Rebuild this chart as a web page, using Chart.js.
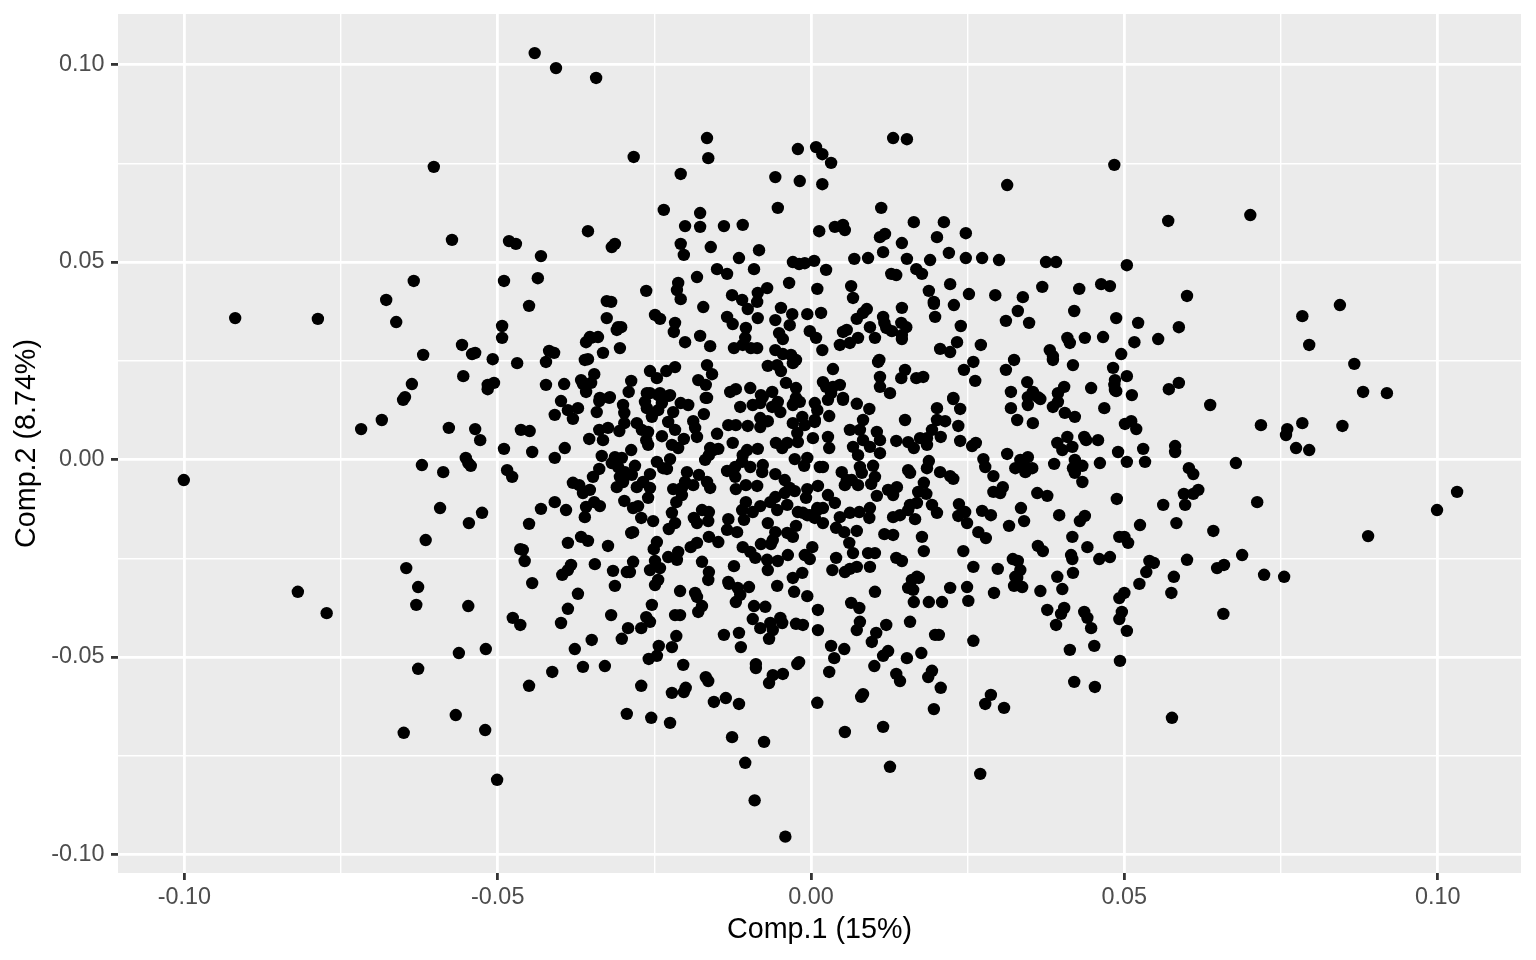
<!DOCTYPE html>
<html>
<head>
<meta charset="utf-8">
<title>PCA scores</title>
<script src="https://cdn.jsdelivr.net/npm/chart.js@4/dist/chart.umd.min.js"></script>
<style>
  html, body { margin: 0; padding: 0; background: #fff; }
  canvas { display: block; }
</style>
</head>
<body>
<canvas id="scoreChart" width="1536" height="960"></canvas>
<script>
// Axis labels and ticks
const xTitle = "Comp.1 (15%)";
const yTitle = "Comp.2 (8.74%)";
const xLimits = [-0.1106, 0.1133];
const yLimits = [-0.1047, 0.1128];
const xTicks = [-0.1, -0.075, -0.05, -0.025, 0, 0.025, 0.05, 0.075, 0.1];
const yTicks = [-0.1, -0.075, -0.05, -0.025, 0, 0.025, 0.05, 0.075, 0.1];
const majorTicks = [-0.1, -0.05, 0, 0.05, 0.1];

// Scores, [Comp.1, Comp.2], one list per region
const scoresLeft = [
  [-0.1001,-0.0052],[-0.0919,0.0358],[-0.0787,0.0356],[-0.0819,-0.0335],[-0.0773,-0.0389],[-0.0718,0.0077],
  [-0.0685,0.0100],[-0.0678,0.0404],[-0.0662,0.0348],[-0.0634,0.0452],[-0.0619,0.0265],[-0.0602,0.0741],
  [-0.0637,0.0191],[-0.0648,0.0158],[-0.0651,0.0151],[-0.0578,0.0080],[-0.0621,-0.0014],[-0.0587,-0.0032],
  [-0.0646,-0.0275],[-0.0627,-0.0323],[-0.0630,-0.0368],[-0.0615,-0.0204],[-0.0592,-0.0123],[-0.0627,-0.0530],
  [-0.0650,-0.0692],[-0.0567,-0.0647],[-0.0562,-0.0490],[-0.0547,-0.0371],[-0.0546,-0.0161],[-0.0525,-0.0135],
  [-0.0519,-0.0480],[-0.0520,-0.0685],[-0.0501,-0.0811],[-0.0573,0.0556],[-0.0557,0.0290],[-0.0555,0.0211],
  [-0.0536,0.0270],[-0.0541,0.0267],[-0.0536,0.0077],[-0.0528,0.0049],[-0.0551,0.0004],[-0.0547,-0.0009],
  [-0.0543,-0.0016],[-0.0516,0.0189],[-0.0506,0.0194],[-0.0516,0.0178],[-0.0508,0.0254],[-0.0490,0.0452],
  [-0.0482,0.0553],[-0.0471,0.0546],[-0.0493,0.0338],[-0.0493,0.0308],[-0.0469,0.0244],[-0.0490,0.0027],
  [-0.0485,-0.0027],[-0.0477,-0.0044],[-0.0463,0.0075],[-0.0449,0.0072],[-0.0450,0.0389],[-0.0436,0.0459],
  [-0.0431,0.0515],[-0.0418,0.0275],[-0.0410,0.0270],[-0.0423,0.0247],[-0.0359,0.0297],[-0.0353,0.0310],
  [-0.0340,0.0310],[-0.0361,0.0252],[-0.0423,0.0189],[-0.0394,0.0191],[-0.0367,0.0201],[-0.0364,0.0191],
  [-0.0359,0.0171],[-0.0445,0.0019],[-0.0476,-0.0401],[-0.0464,-0.0419],[-0.0450,-0.0573],[-0.0464,-0.0227],
  [-0.0460,-0.0229],[-0.0457,-0.0257],[-0.0445,-0.0313],[-0.0450,-0.0163],[-0.0431,-0.0125],[-0.0409,-0.0108]
];

const scoresTop = [
  [-0.0441,0.1029],[-0.0407,0.0991],[-0.0343,0.0966],[-0.0283,0.0766],[-0.0208,0.0723],[-0.0166,0.0814],
  [-0.0164,0.0763],[-0.0021,0.0786],[0.0008,0.0791],[0.0018,0.0773],[0.0032,0.0751],[-0.0057,0.0715],
  [-0.0018,0.0705],[0.0018,0.0697],[0.0131,0.0814],[0.0153,0.0811],[0.0313,0.0695],[0.0484,0.0746],
  [0.0701,0.0619],[0.0570,0.0604],[-0.0235,0.0632],[-0.0177,0.0624],[-0.0201,0.0591],[-0.0177,0.0589],
  [-0.0139,0.0591],[-0.0109,0.0594],[-0.0053,0.0637],[0.0112,0.0637],[0.0164,0.0601],[0.0212,0.0601],
  [0.0247,0.0573],[0.0201,0.0563],[0.0145,0.0548],[0.0118,0.0571],[0.0110,0.0563],[0.0013,0.0578],
  [0.0038,0.0589],[0.0051,0.0594],[0.0054,0.0581],[-0.0313,0.0546],[-0.0318,0.0538],[-0.0356,0.0578],
  [-0.0208,0.0546],[-0.0203,0.0518],[-0.0160,0.0538],[-0.0083,0.0530],[-0.0115,0.0510],[-0.0091,0.0482],
  [-0.0150,0.0482],[-0.0134,0.0470],[-0.0182,0.0462],[-0.0029,0.0500],[-0.0019,0.0495],[-0.0010,0.0497],
  [0.0005,0.0503],[0.0024,0.0480],[0.0069,0.0508],[0.0091,0.0510],[0.0115,0.0525],[0.0153,0.0508],
  [0.0190,0.0505],[0.0220,0.0523],[0.0247,0.0510],[0.0273,0.0510],[0.0300,0.0505],[0.0375,0.0500],
  [0.0391,0.0500],[0.0168,0.0482],[0.0177,0.0470],[0.0128,0.0470],[0.0136,0.0467],[-0.0035,0.0447],
  [0.0010,0.0432],[-0.0070,0.0434],[-0.0085,0.0422],[-0.0086,0.0399],[-0.0212,0.0447],[-0.0214,0.0429],
  [-0.0208,0.0406],[-0.0263,0.0427],[-0.0326,0.0401],[-0.0319,0.0399],[-0.0126,0.0416],[-0.0110,0.0404],
  [-0.0101,0.0381],[-0.0172,0.0386],[-0.0048,0.0384],[0.0064,0.0439],[0.0067,0.0409],[0.0188,0.0427],
  [0.0196,0.0399],[0.0196,0.0394],[0.0222,0.0444],[0.0252,0.0419],[0.0294,0.0416],[0.0338,0.0411],
  [0.0369,0.0437],[0.0228,0.0391],[0.0330,0.0376],[0.0311,0.0351],[0.0348,0.0346]
];

const scoresUpperMiddle = [
  [0.0198,0.0361],[0.0145,0.0384],[0.0089,0.0381],[0.0083,0.0371],[0.0073,0.0356],[0.0115,0.0361],
  [0.0117,0.0346],[0.0120,0.0333],[0.0129,0.0325],[0.0144,0.0346],[0.0152,0.0335],[0.0145,0.0315],
  [0.0145,0.0305],[0.0094,0.0335],[0.0102,0.0308],[0.0057,0.0328],[0.0051,0.0323],[0.0075,0.0308],
  [0.0062,0.0295],[0.0046,0.0290],[0.0016,0.0371],[-0.0006,0.0368],[-0.0030,0.0368],[-0.0034,0.0340],
  [-0.0057,0.0353],[-0.0085,0.0358],[-0.0134,0.0361],[-0.0125,0.0343],[-0.0249,0.0366],[-0.0241,0.0356],
  [-0.0217,0.0346],[-0.0219,0.0323],[-0.0326,0.0358],[-0.0308,0.0335],[-0.0303,0.0335],[-0.0310,0.0328],
  [-0.0351,0.0308],[-0.0305,0.0282],[-0.0332,0.0270],[-0.0177,0.0313],[-0.0201,0.0297],[-0.0161,0.0287],
  [-0.0104,0.0333],[-0.0105,0.0308],[-0.0123,0.0282],[-0.0109,0.0290],[-0.0096,0.0282],[-0.0086,0.0282],
  [-0.0051,0.0320],[-0.0045,0.0305],[-0.0002,0.0325],[0.0008,0.0308],[0.0018,0.0277],[-0.0057,0.0277],
  [-0.0045,0.0267],[-0.0032,0.0265],[-0.0024,0.0252],[-0.0029,0.0244],[-0.0069,0.0237],[-0.0054,0.0239],
  [-0.0048,0.0224],[0.0239,0.0338],[0.0233,0.0297],[0.0206,0.0280],[0.0222,0.0272],[0.0271,0.0290],
  [0.0259,0.0247],[0.0244,0.0227],[0.0262,0.0199],[0.0324,0.0252],[0.0311,0.0227],[0.0381,0.0277],
  [0.0386,0.0262],[0.0319,0.0171],[0.0345,0.0196],[0.0354,0.0171],[0.0346,0.0158],[0.0362,0.0158],
  [0.0227,0.0156],[0.0109,0.0252],[0.0110,0.0209],[0.0110,0.0184],[0.0126,0.0168],[0.0035,0.0229],
  [0.0150,0.0227],[0.0144,0.0206],[0.0168,0.0206],[0.0179,0.0209],[0.0019,0.0196],[0.0024,0.0184],
  [0.0035,0.0184],[0.0046,0.0189],[0.0032,0.0168],[0.0051,0.0156],[-0.0040,0.0194],[-0.0024,0.0181],
  [-0.0024,0.0156],[-0.0062,0.0171],[-0.0097,0.0181],[-0.0080,0.0163],[-0.0129,0.0171],[-0.0120,0.0178],
  [-0.0166,0.0239],[-0.0158,0.0216],[-0.0180,0.0201],[-0.0168,0.0189],[-0.0168,0.0156],[-0.0217,0.0234],
  [-0.0231,0.0224],[-0.0246,0.0206],[-0.0257,0.0224],[-0.0287,0.0199],[-0.0291,0.0171],[-0.0257,0.0168],
  [-0.0244,0.0163],[-0.0225,0.0163],[-0.0346,0.0216],[-0.0351,0.0194],[-0.0321,0.0158],[-0.0337,0.0156],
  [-0.0356,0.0254]
];

const scoresCentreLeft = [
  [-0.0399,0.0148],[-0.0409,0.0113],[-0.0388,0.0125],[-0.0372,0.0130],[-0.0380,0.0103],[-0.0338,0.0148],
  [-0.0322,0.0156],[-0.0342,0.0120],[-0.0300,0.0138],[-0.0298,0.0118],[-0.0298,0.0092],[-0.0306,0.0072],
  [-0.0338,0.0075],[-0.0324,0.0080],[-0.0332,0.0049],[-0.0354,0.0052],[-0.0393,0.0029],[-0.0409,0.0004],
  [-0.0287,0.0024],[-0.0278,0.0092],[-0.0270,0.0075],[-0.0260,0.0070],[-0.0263,0.0049],[-0.0260,0.0037],
  [-0.0262,0.0168],[-0.0265,0.0146],[-0.0262,0.0130],[-0.0254,0.0108],[-0.0241,0.0168],[-0.0244,0.0125],
  [-0.0227,0.0161],[-0.0238,0.0143],[-0.0220,0.0120],[-0.0228,0.0095],[-0.0217,0.0075],[-0.0238,0.0059],
  [-0.0222,0.0037],[-0.0212,0.0029],[-0.0203,0.0052],[-0.0208,0.0143],[-0.0196,0.0138],[-0.0166,0.0156],
  [-0.0171,0.0115],[-0.0188,0.0097],[-0.0185,0.0080],[-0.0182,0.0057],[-0.0150,0.0065],[-0.0132,0.0087],
  [-0.0120,0.0087],[-0.0101,0.0085],[-0.0081,0.0082],[-0.0069,0.0097],[-0.0081,0.0105],[-0.0113,0.0133],
  [-0.0093,0.0138],[-0.0081,0.0143],[-0.0077,0.0158],[-0.0062,0.0133],[-0.0053,0.0146],[-0.0049,0.0120],
  [-0.0026,0.0146],[-0.0029,0.0138],[-0.0018,0.0146],[-0.0029,0.0092],[-0.0010,0.0087],[0.0006,0.0100],
  [-0.0014,0.0108],[-0.0022,0.0067],[-0.0021,0.0044],[0.0003,0.0054],[-0.0125,0.0042],[-0.0161,0.0029],
  [-0.0156,0.0024],[-0.0169,-0.0001],[-0.0163,0.0011],[-0.0148,0.0027],[-0.0102,0.0024],[-0.0085,0.0027],
  [-0.0109,0.0011],[-0.0056,0.0042],[-0.0046,0.0029],[-0.0038,0.0042],[-0.0026,0.0001],[-0.0006,0.0004],
  [-0.0011,-0.0016],[0.0014,-0.0019],[-0.0334,0.0009],[-0.0313,0.0006],[-0.0302,0.0004],[-0.0318,-0.0009],
  [-0.0308,-0.0019],[-0.0297,-0.0032],[-0.0305,-0.0044],[-0.0286,-0.0039],[-0.0281,-0.0016],[-0.0310,-0.0070],
  [-0.0300,-0.0057],[-0.0338,-0.0024],[-0.0348,-0.0044],[-0.0380,-0.0059],[-0.0370,-0.0065],[-0.0364,-0.0085],
  [-0.0353,-0.0077],[-0.0257,-0.0037],[-0.0268,-0.0057],[-0.0278,-0.0070],[-0.0257,-0.0072],[-0.0260,-0.0097],
  [-0.0246,-0.0006],[-0.0236,-0.0022],[-0.0225,0.0001],[-0.0230,-0.0024],[-0.0298,-0.0105],[-0.0284,-0.0123],
  [-0.0276,-0.0118],[-0.0271,-0.0148],[-0.0252,-0.0156],[-0.0284,-0.0184],[-0.0287,-0.0186],[-0.0346,-0.0108],
  [-0.0337,-0.0118],[-0.0359,-0.0120],[-0.0361,-0.0146],[-0.0391,-0.0128],[-0.0388,-0.0211],[-0.0367,-0.0196],
  [-0.0356,-0.0206],[-0.0324,-0.0219],[-0.0383,-0.0267],[-0.0388,-0.0280],[-0.0397,-0.0292],[-0.0345,-0.0265],
  [-0.0316,-0.0282],[-0.0284,-0.0259],[-0.0289,-0.0285],[-0.0294,-0.0285],[-0.0246,-0.0209],[-0.0251,-0.0227],
  [-0.0249,-0.0257],[-0.0257,-0.0280],[-0.0241,-0.0275],[-0.0228,-0.0247],[-0.0212,-0.0234],[-0.0214,-0.0254],
  [-0.0227,-0.0176],[-0.0217,-0.0161],[-0.0222,-0.0135],[-0.0215,-0.0108],[-0.0206,-0.0090],[-0.0220,-0.0075],
  [-0.0198,-0.0032],[-0.0201,-0.0057],[-0.0206,-0.0072],[-0.0188,-0.0065],[-0.0179,-0.0039],[-0.0166,-0.0057],
  [-0.0161,-0.0072],[-0.0134,-0.0029],[-0.0121,-0.0044],[-0.0121,-0.0019],[-0.0110,-0.0006],[-0.0097,-0.0019],
  [-0.0077,-0.0014],[-0.0078,-0.0032],[-0.0057,-0.0037],[-0.0120,-0.0075],[-0.0104,-0.0065],[-0.0086,-0.0067],
  [-0.0042,-0.0052],[-0.0034,-0.0072],[-0.0042,-0.0085],[-0.0026,-0.0080],[-0.0006,-0.0075],[-0.0008,-0.0097],
  [0.0011,-0.0067],[-0.0104,-0.0108],[-0.0110,-0.0128],[-0.0093,-0.0133],[-0.0081,-0.0118],[-0.0065,-0.0108],
  [-0.0057,-0.0095],[-0.0054,-0.0128],[-0.0038,-0.0115],[-0.0021,-0.0133],[-0.0006,-0.0141],[0.0010,-0.0128],
  [0.0006,-0.0148],[-0.0174,-0.0128],[-0.0187,-0.0148],[-0.0163,-0.0133],[-0.0164,-0.0156],[-0.0182,-0.0161],
  [-0.0132,-0.0151],[-0.0134,-0.0178],[-0.0118,-0.0184],[-0.0107,-0.0153],[-0.0069,-0.0161],[-0.0024,-0.0168],
  [-0.0057,-0.0184],[-0.0061,-0.0204],[-0.0080,-0.0214],[-0.0064,-0.0214],[-0.0038,-0.0186],[-0.0029,-0.0196],
  [-0.0163,-0.0196],[-0.0148,-0.0209],[-0.0182,-0.0211],[-0.0192,-0.0222],[-0.0109,-0.0222],[-0.0097,-0.0234],
  [-0.0089,-0.0249],[-0.0070,-0.0254],[-0.0053,-0.0257],[-0.0037,-0.0242],[-0.0069,-0.0280],[0.0002,-0.0222],
  [-0.0010,-0.0242],[-0.0002,-0.0252],[-0.0174,-0.0259],[-0.0123,-0.0270],[-0.0163,-0.0285],[-0.0164,-0.0305],
  [-0.0014,-0.0287],[-0.0029,-0.0300],[-0.0132,-0.0310]
];

const scoresCentreRight = [
  [0.0107,0.0247],[0.0418,0.0239],[0.0386,0.0252],[0.0482,0.0232],[0.0485,0.0201],[0.0485,0.0176],
  [0.0319,0.0130],[0.0329,0.0100],[0.0354,0.0092],[0.0346,0.0138],[0.0404,0.0184],[0.0394,0.0168],
  [0.0394,0.0146],[0.0386,0.0133],[0.0405,0.0118],[0.0421,0.0108],[0.0447,0.0181],[0.0468,0.0130],
  [0.0393,0.0042],[0.0409,0.0057],[0.0417,0.0032],[0.0401,0.0024],[0.0436,0.0057],[0.0439,0.0049],
  [0.0458,0.0049],[0.0490,0.0019],[0.0388,-0.0011],[0.0421,-0.0001],[0.0433,-0.0016],[0.0418,-0.0022],
  [0.0421,-0.0034],[0.0433,-0.0057],[0.0461,-0.0009],[0.0313,0.0014],[0.0326,-0.0022],[0.0334,-0.0001],
  [0.0346,0.0006],[0.0342,-0.0019],[0.0353,-0.0022],[0.0342,-0.0032],[0.0361,-0.0085],[0.0377,-0.0092],
  [0.0335,-0.0123],[0.0340,-0.0156],[0.0316,-0.0168],[0.0396,-0.0141],[0.0437,-0.0143],[0.0429,-0.0156],
  [0.0488,-0.0100],[0.0417,-0.0196],[0.0441,-0.0222],[0.0362,-0.0219],[0.0370,-0.0232],[0.0415,-0.0242],
  [0.0417,-0.0252],[0.0460,-0.0252],[0.0477,-0.0247],[0.0492,-0.0196],[0.0393,-0.0297],[0.0418,-0.0287],
  [0.0322,-0.0252],[0.0330,-0.0257],[0.0334,-0.0280],[0.0326,-0.0297],[0.0298,-0.0277],[0.0259,-0.0272],
  [0.0243,-0.0232],[0.0180,-0.0232],[0.0177,-0.0196],[0.0117,-0.0189],[0.0131,-0.0191],[0.0136,-0.0249],
  [0.0145,-0.0257],[0.0169,-0.0297],[0.0094,-0.0272],[0.0091,-0.0237],[0.0102,-0.0237],[0.0073,-0.0272],
  [0.0062,-0.0277],[0.0054,-0.0285],[0.0034,-0.0280],[0.0040,-0.0249],[0.0067,-0.0237],[0.0061,-0.0211],
  [0.0073,-0.0181],[0.0053,-0.0184],[0.0040,-0.0173],[0.0049,-0.0032],[0.0057,-0.0052],[0.0054,-0.0065],
  [0.0075,-0.0065],[0.0065,-0.0052],[0.0078,-0.0019],[0.0081,-0.0034],[0.0099,-0.0016],[0.0102,-0.0044],
  [0.0096,-0.0062],[0.0019,-0.0019],[0.0027,-0.0090],[0.0038,-0.0110],[0.0010,-0.0123],[0.0019,-0.0123],
  [-0.0002,-0.0141],[0.0019,-0.0161],[-0.0013,-0.0135],[0.0046,-0.0146],[0.0062,-0.0135],[0.0077,-0.0133],
  [0.0094,-0.0123],[0.0093,-0.0148],[0.0105,-0.0092],[0.0123,-0.0077],[0.0137,-0.0070],[0.0131,-0.0090],
  [0.0180,-0.0059],[0.0171,-0.0082],[0.0184,-0.0087],[0.0169,-0.0110],[0.0158,-0.0115],[0.0155,-0.0128],
  [0.0166,-0.0151],[0.0142,-0.0141],[0.0131,-0.0146],[0.0193,-0.0115],[0.0201,-0.0135],[0.0155,-0.0027],
  [0.0158,-0.0034],[0.0188,-0.0004],[0.0185,-0.0022],[0.0206,-0.0032],[0.0222,-0.0042],[0.0227,-0.0049],
  [0.0236,-0.0113],[0.0246,-0.0133],[0.0235,-0.0143],[0.0249,-0.0161],[0.0267,-0.0184],[0.0279,-0.0199],
  [0.0273,-0.0130],[0.0287,-0.0141],[0.0275,0.0001],[0.0278,-0.0019],[0.0291,-0.0042],[0.0306,-0.0070],
  [0.0302,-0.0085],[0.0291,-0.0082],[0.0238,0.0047],[0.0257,0.0034],[0.0263,0.0042],[0.0235,0.0085],
  [0.0227,0.0153],[0.0238,0.0128],[0.0201,0.0130],[0.0214,0.0097],[0.0201,0.0100],[0.0193,0.0075],
  [0.0207,0.0057],[0.0174,0.0054],[0.0185,0.0054],[0.0185,0.0037],[0.0164,0.0029],[0.0155,0.0044],
  [0.0136,0.0047],[0.0150,0.0100],[0.0105,0.0070],[0.0110,0.0049],[0.0110,0.0016],[0.0094,0.0032],
  [0.0083,0.0100],[0.0062,0.0075],[0.0078,0.0075],[0.0083,0.0049],[0.0067,0.0032],[0.0075,0.0011],
  [0.0073,0.0141],[0.0093,0.0128],[0.0051,0.0151],[0.0029,0.0110],[0.0027,0.0057],[0.0029,0.0029],
  [0.0006,0.0143],[0.0010,0.0125],[0.0006,0.0095],[0.0027,0.0151]
];

const scoresLowerLeft = [
  [-0.0313,-0.0320],[-0.0372,-0.0340],[-0.0388,-0.0378],[-0.0399,-0.0414],[-0.0319,-0.0394],[-0.0350,-0.0457],
  [-0.0377,-0.0480],[-0.0364,-0.0525],[-0.0329,-0.0523],[-0.0413,-0.0538],[-0.0292,-0.0427],[-0.0302,-0.0454],
  [-0.0271,-0.0427],[-0.0263,-0.0399],[-0.0257,-0.0411],[-0.0254,-0.0368],[-0.0249,-0.0318],[-0.0244,-0.0305],
  [-0.0209,-0.0333],[-0.0185,-0.0338],[-0.0182,-0.0348],[-0.0174,-0.0371],[-0.0180,-0.0386],[-0.0217,-0.0394],
  [-0.0209,-0.0394],[-0.0215,-0.0447],[-0.0222,-0.0475],[-0.0243,-0.0472],[-0.0246,-0.0497],[-0.0259,-0.0505],
  [-0.0204,-0.0520],[-0.0271,-0.0573],[-0.0294,-0.0644],[-0.0255,-0.0654],[-0.0225,-0.0667],[-0.0222,-0.0591],
  [-0.0200,-0.0578],[-0.0203,-0.0589],[-0.0168,-0.0551],[-0.0164,-0.0561],[-0.0155,-0.0614],[-0.0136,-0.0604],
  [-0.0115,-0.0619],[-0.0126,-0.0703],[-0.0075,-0.0715],[-0.0105,-0.0768],[-0.0139,-0.0444],[-0.0115,-0.0439],
  [-0.0112,-0.0475],[-0.0131,-0.0315],[-0.0117,-0.0325],[-0.0099,-0.0323],[-0.0113,-0.0343],[-0.0120,-0.0361],
  [-0.0091,-0.0371],[-0.0073,-0.0373],[-0.0093,-0.0404],[-0.0081,-0.0427],[-0.0065,-0.0414],[-0.0049,-0.0401],
  [-0.0046,-0.0414],[-0.0061,-0.0432],[-0.0067,-0.0454],[-0.0088,-0.0518],[-0.0088,-0.0528],[-0.0019,-0.0513],
  [-0.0022,-0.0518],[-0.0045,-0.0543],[-0.0061,-0.0546],[-0.0067,-0.0566],[0.0010,-0.0616],[-0.0024,-0.0416],
  [-0.0013,-0.0419],[-0.0054,-0.0320],[-0.0027,-0.0335],[-0.0006,-0.0346],[0.0011,-0.0381],[0.0011,-0.0432],
  [-0.0090,-0.0863],[-0.0041,-0.0955]
];

const scoresLowerRight = [
  [0.0102,-0.0335],[0.0064,-0.0363],[0.0077,-0.0376],[0.0078,-0.0411],[0.0073,-0.0432],[0.0032,-0.0472],
  [0.0053,-0.0480],[0.0037,-0.0503],[0.0029,-0.0538],[0.0104,-0.0439],[0.0097,-0.0462],[0.0120,-0.0419],
  [0.0123,-0.0485],[0.0115,-0.0497],[0.0101,-0.0523],[0.0153,-0.0503],[0.0176,-0.0490],[0.0158,-0.0411],
  [0.0198,-0.0444],[0.0204,-0.0444],[0.0136,-0.0543],[0.0142,-0.0561],[0.0193,-0.0535],[0.0187,-0.0551],
  [0.0207,-0.0578],[0.0083,-0.0594],[0.0080,-0.0601],[0.0196,-0.0632],[0.0054,-0.0690],[0.0115,-0.0677],
  [0.0126,-0.0778],[0.0270,-0.0796],[0.0287,-0.0596],[0.0278,-0.0619],[0.0308,-0.0629],[0.0259,-0.0459],
  [0.0161,-0.0305],[0.0172,-0.0300],[0.0155,-0.0325],[0.0163,-0.0330],[0.0164,-0.0361],[0.0188,-0.0361],
  [0.0209,-0.0361],[0.0222,-0.0325],[0.0249,-0.0323],[0.0251,-0.0358],[0.0292,-0.0338],[0.0324,-0.0320],
  [0.0329,-0.0300],[0.0337,-0.0323],[0.0366,-0.0333],[0.0401,-0.0328],[0.0377,-0.0381],[0.0404,-0.0376],
  [0.0399,-0.0391],[0.0391,-0.0419],[0.0436,-0.0386],[0.0441,-0.0401],[0.0447,-0.0427],[0.0413,-0.0482],
  [0.0452,-0.0472],[0.0420,-0.0563],[0.0453,-0.0576],[0.0493,-0.0510],[0.0500,-0.0338],[0.0492,-0.0351],
  [0.0496,-0.0386],[0.0492,-0.0404],[0.0504,-0.0434]
];

const scoresRight = [
  [0.0504,0.0492],[0.0428,0.0432],[0.0463,0.0444],[0.0477,0.0439],[0.0600,0.0414],[0.0420,0.0376],
  [0.0487,0.0358],[0.0522,0.0346],[0.0587,0.0335],[0.0844,0.0391],[0.0784,0.0363],[0.0795,0.0290],
  [0.0409,0.0308],[0.0413,0.0295],[0.0437,0.0308],[0.0466,0.0310],[0.0516,0.0297],[0.0554,0.0305],
  [0.0495,0.0267],[0.0867,0.0242],[0.0504,0.0211],[0.0484,0.0189],[0.0487,0.0173],[0.0512,0.0163],
  [0.0366,0.0153],[0.0587,0.0194],[0.0571,0.0178],[0.0881,0.0171],[0.0919,0.0168],[0.0637,0.0138],
  [0.0718,0.0087],[0.0784,0.0092],[0.0848,0.0085],[0.0760,0.0077],[0.0758,0.0062],[0.0774,0.0029],
  [0.0795,0.0024],[0.0511,0.0097],[0.0501,0.0090],[0.0519,0.0077],[0.0530,0.0027],[0.0581,0.0034],
  [0.0581,0.0019],[0.0504,-0.0006],[0.0533,-0.0006],[0.0678,-0.0009],[0.0603,-0.0022],[0.0610,-0.0037],
  [0.0618,-0.0077],[0.0610,-0.0087],[0.0595,-0.0087],[0.0597,-0.0115],[0.0562,-0.0115],[0.0712,-0.0108],
  [0.0583,-0.0161],[0.0525,-0.0166],[0.0642,-0.0181],[0.0889,-0.0194],[0.0500,-0.0196],[0.0506,-0.0211],
  [0.0540,-0.0257],[0.0547,-0.0262],[0.0600,-0.0254],[0.0688,-0.0242],[0.0659,-0.0267],[0.0648,-0.0275],
  [0.0535,-0.0285],[0.0524,-0.0315],[0.0579,-0.0297],[0.0575,-0.0338],[0.0723,-0.0292],[0.0755,-0.0297],
  [0.0658,-0.0391],[0.0999,-0.0128],[0.1031,-0.0082],[0.0576,-0.0654]
];

// Panel background, ggplot grey
const panelBackground = {
  id: "panelBackground",
  beforeDraw(chart) {
    const { ctx, chartArea: a } = chart;
    ctx.save();
    ctx.fillStyle = "#ebebeb";
    ctx.fillRect(a.left, a.top, a.right - a.left, a.bottom - a.top);
    ctx.restore();
  },
};

function isMajor(value) {
  return majorTicks.some((m) => Math.abs(m - value) < 1e-9);
}

function gridOptions() {
  return {
    color: "#ffffff",
    lineWidth: (c) => (isMajor(c.tick.value) ? 2.8 : 1.4),
    tickColor: (c) => (isMajor(c.tick.value) ? "#333333" : "rgba(0,0,0,0)"),
    tickWidth: 2.8,
    tickLength: 7,
  };
}

function tickOptions(padding) {
  return {
    autoSkip: false,
    maxRotation: 0,
    minRotation: 0,
    color: "#4d4d4d",
    padding: padding,
    font: { family: "'Liberation Sans', Arimo, Helvetica, sans-serif", size: 23.4 },
    callback: (value) => (isMajor(value) ? value.toFixed(2) : ""),
  };
}

function titleOptions(text, padding) {
  return {
    display: true,
    text: text,
    color: "#000000",
    padding: padding,
    font: { family: "'Liberation Sans', Arimo, Helvetica, sans-serif", size: 28.7 },
  };
}

new Chart(document.getElementById("scoreChart"), {
  type: "scatter",
  data: {
    datasets: [
      {
        data: [
          ...scoresLeft,
          ...scoresTop,
          ...scoresUpperMiddle,
          ...scoresCentreLeft,
          ...scoresCentreRight,
          ...scoresLowerLeft,
          ...scoresLowerRight,
          ...scoresRight,
        ].map(([x, y]) => ({ x, y })),
        backgroundColor: "#000000",
        borderWidth: 0,
        pointRadius: 6.2,
      },
    ],
  },
  options: {
    responsive: false,
    animation: false,
    devicePixelRatio: 1,
    layout: { padding: { top: 14, right: 15, left: 0, bottom: 0 } },
    plugins: { legend: { display: false }, tooltip: { enabled: false } },
    scales: {
      x: {
        type: "linear",
        min: xLimits[0],
        max: xLimits[1],
        afterBuildTicks: (axis) => {
          axis.ticks = xTicks.map((value) => ({ value }));
        },
        afterFit: (axis) => {
          axis.height = 87;
          axis.paddingLeft = 0;
          axis.paddingRight = 0;
        },
        grid: gridOptions(),
        border: { display: false },
        ticks: tickOptions(4),
        title: titleOptions(xTitle, { top: 0, bottom: 13 }),
      },
      y: {
        type: "linear",
        min: yLimits[0],
        max: yLimits[1],
        afterBuildTicks: (axis) => {
          axis.ticks = yTicks.map((value) => ({ value }));
        },
        afterFit: (axis) => {
          axis.width = 118;
          axis.paddingTop = 0;
          axis.paddingBottom = 0;
        },
        grid: gridOptions(),
        border: { display: false },
        ticks: tickOptions(6.5),
        title: titleOptions(yTitle, { top: 10, bottom: 0 }),
      },
    },
  },
  plugins: [panelBackground],
});
</script>
</body>
</html>
